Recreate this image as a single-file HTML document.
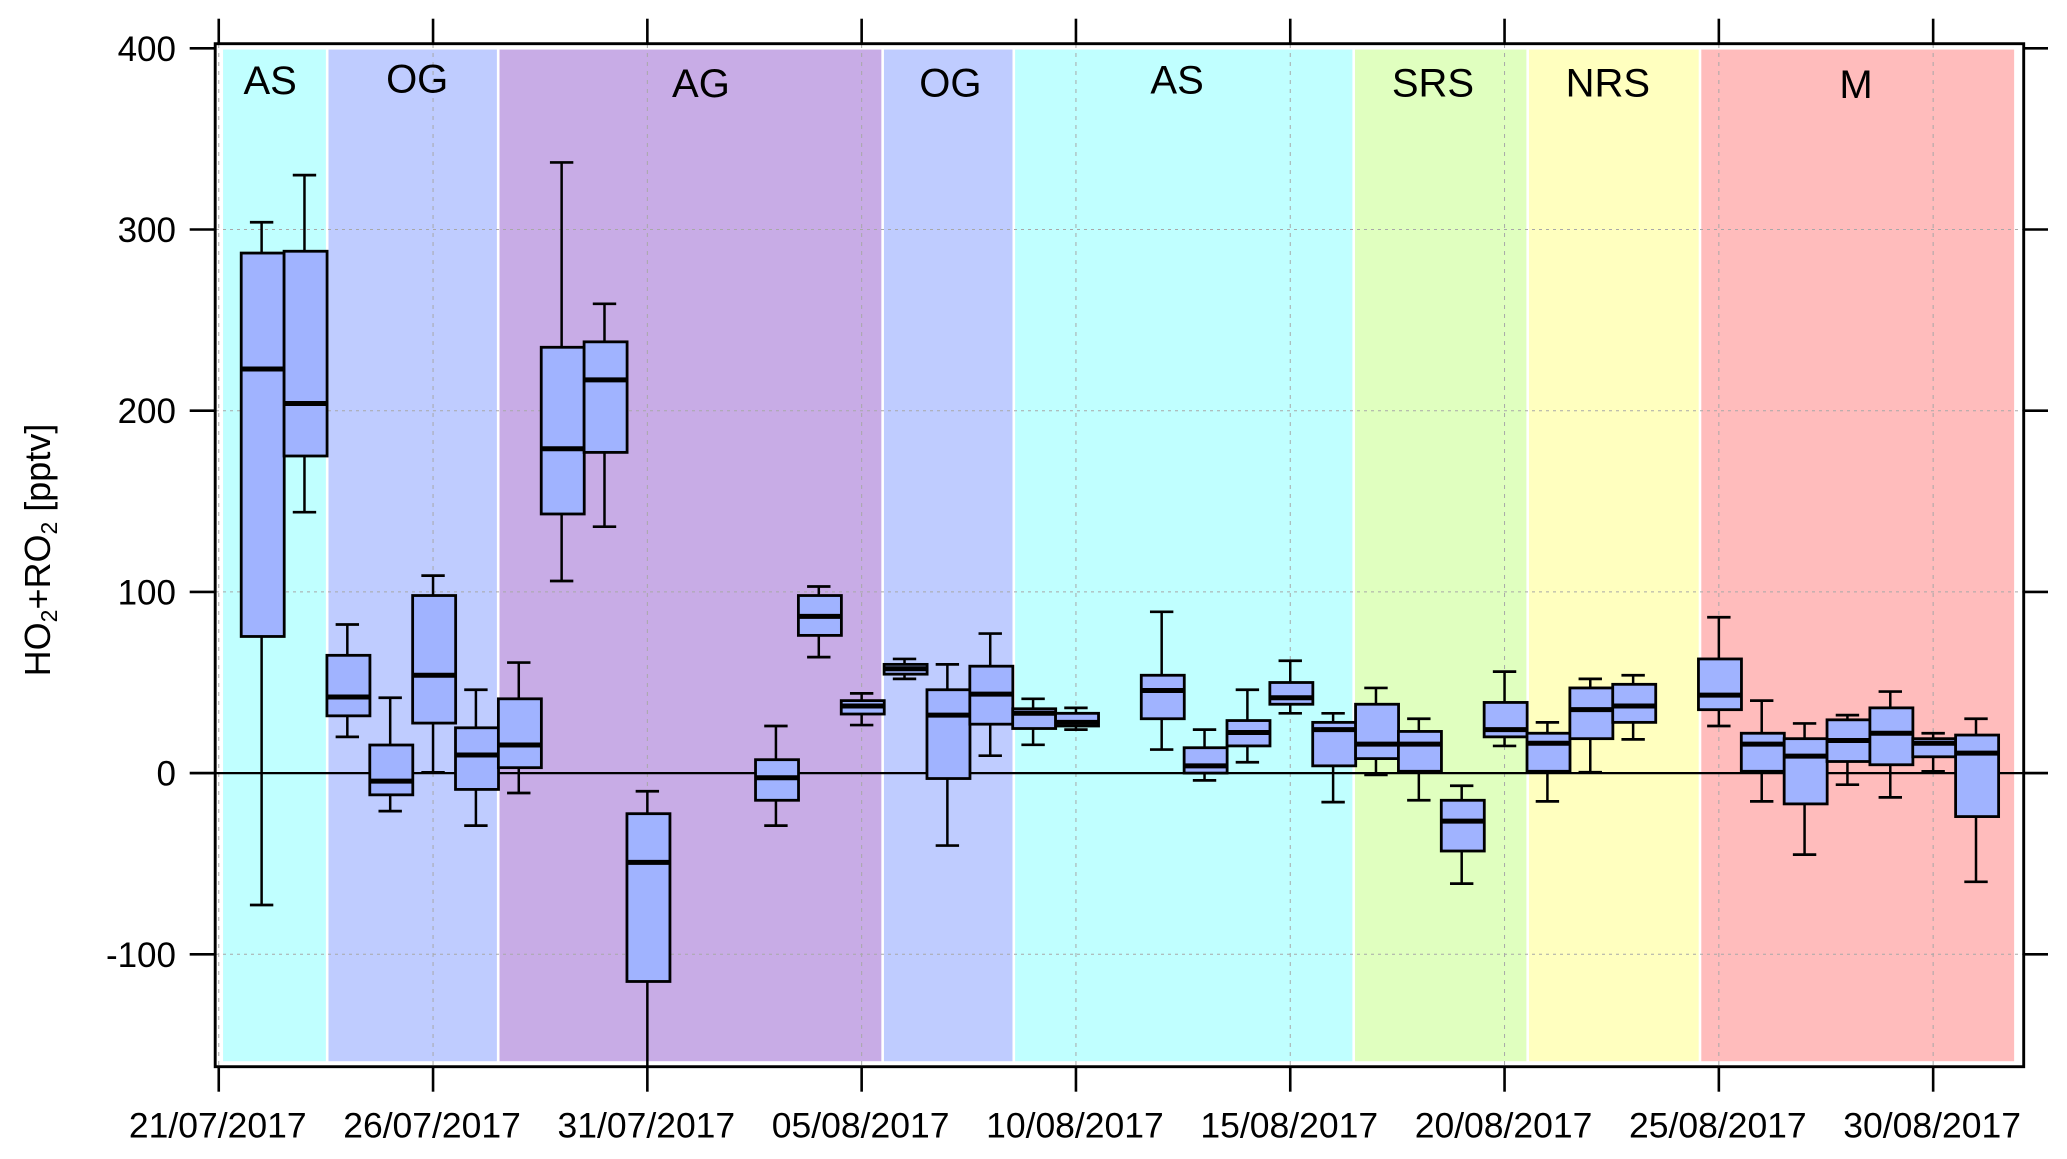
<!DOCTYPE html>
<html lang="en">
<head>
<meta charset="utf-8">
<title>HO2+RO2 box plot</title>
<style>
  html, body { margin: 0; padding: 0; background: #ffffff; }
  svg { display: block; }
  text { font-family: "Liberation Sans", Arial, sans-serif; fill: #000; }
</style>
</head>
<body>
<svg id="chart" xmlns="http://www.w3.org/2000/svg" width="2067" height="1159" viewBox="0 0 2067 1159">
  <defs>
    <clipPath id="plot-clip"><rect x="215" y="44" width="1809" height="1023"></rect></clipPath>
  </defs>
  <rect x="0" y="0" width="2067" height="1159" fill="#ffffff"></rect>
  <g id="regions"></g>
  <g id="grid"></g>
  <line id="zero-line" stroke="#000" stroke-width="2.3"></line>
  <g id="boxes" clip-path="url(#plot-clip)"></g>
  <rect x="215.2" y="43.7" width="1808.5" height="1023" fill="none" stroke="#000" stroke-width="2.9"></rect>
  <g id="ticks"></g>
  <g id="labels"></g>
  <text transform="translate(50,550) rotate(-90)" text-anchor="middle" font-size="36">HO<tspan font-size="23" dy="7">2</tspan><tspan dy="-7">+RO</tspan><tspan font-size="23" dy="7">2</tspan><tspan dy="-7"> [pptv]</tspan></text>
</svg>
<script>
// Box plot statistics, one entry per box (pptv); days are counted from 21/07/2017.
var boxDays      = [1, 2, 3, 4, 5, 6, 7, 8, 9, 10, 13, 14, 15, 16, 17, 18, 19, 20, 22, 23, 24, 25, 26, 27, 28, 29, 30, 31, 32, 33, 35, 36, 37, 38, 39, 40, 41];
var whiskerHigh  = [304, 330, 82, 41.6, 109, 46, 61, 337, 259, -10, 26, 103, 44, 63, 60, 77, 41, 36, 89, 24, 46, 62, 33, 47, 30, -7, 56, 28, 52, 54, 86, 40, 27.4, 32, 45, 22, 30];
var boxTop       = [287, 288, 65, 15.5, 98, 25, 41, 235, 238, -22.4, 7.4, 98, 40, 60, 46, 59, 35.5, 33, 54, 14, 29, 50, 28, 38, 23, -15, 39, 22, 47, 49, 63, 22, 19, 29.4, 36, 19, 21];
var boxMedian    = [223, 204, 42, -4.4, 54, 10, 15.5, 179, 217, -49.3, -2.6, 86.5, 37, 57.6, 32, 43.6, 33, 28, 45.6, 4, 22.4, 41.6, 24, 16, 16, -26.5, 24, 16.5, 35, 37, 43, 16, 9.4, 18, 22, 16.5, 11];
var boxBottom    = [75.4, 175, 31.6, -12, 27.6, -9, 3, 143, 177, -115, -15, 76, 32.6, 54.6, -3, 27, 24.6, 26, 30, 0, 15, 38, 4, 8, 1, -43, 20, 1, 19, 28, 35, 1, -17, 6.4, 4.6, 9, -24];
var whiskerLow   = [-72.8, 144, 20, -21, 0.4, -29, -11, 106, 136, -175, -29, 64, 26.5, 52, -40, 9.6, 15.6, 24, 13, -4, 6, 33, -16, -1, -15, -61, 15, -15.6, 0.5, 18.6, 26, -15.6, -45, -6.4, -13.4, 1, -60];

// Axis content.
var yTickValues  = [400, 300, 200, 100, 0, -100];
var xTickDays    = [0, 5, 10, 15, 20, 25, 30, 35, 40];
var xTickLabels  = ["21/07/2017", "26/07/2017", "31/07/2017", "05/08/2017", "10/08/2017", "15/08/2017", "20/08/2017", "25/08/2017", "30/08/2017"];

// Air-mass regions: edges in days, and label anchors in data units.
var regionEdges       = [0.07, 2.53, 6.52, 15.49, 18.55, 26.48, 30.54, 34.56, 41.92];
var regionNames       = ["AS", "OG", "AG", "OG", "AS", "SRS", "NRS", "M"];
var regionColors      = ["#c0ffff", "#bfccff", "#c8ace6", "#bfccff", "#c0ffff", "#e0ffbf", "#ffffbf", "#ffbcbc"];
var regionLabelDays   = [1.2, 4.63, 11.25, 17.07, 22.36, 28.33, 32.41, 38.2];
var regionLabelValues = [374.7, 375.5, 373, 373.5, 375, 373.5, 373.5, 372.5];

function xScale(day) { return 218.75 + 42.86 * day; }
function yScale(value) { return 773.1 - 1.812 * value; }

var NS = "http://www.w3.org/2000/svg";
function make(tag, parent, props) {
  var el = document.createElementNS(NS, tag);
  for (var k in props) { el.setAttribute(k, props[k]); }
  parent.appendChild(el);
  return el;
}

var regionLayer = document.getElementById("regions");
var gridLayer = document.getElementById("grid");
var boxLayer = document.getElementById("boxes");
var tickLayer = document.getElementById("ticks");
var labelLayer = document.getElementById("labels");

regionNames.forEach(function (name, i) {
  var x0 = xScale(regionEdges[i]) + 1.3;
  var x1 = xScale(regionEdges[i + 1]) - 1.3;
  var band = make("rect", regionLayer, { x: x0, y: yScale(399.3), width: x1 - x0, height: yScale(-159) - yScale(399.3), fill: regionColors[i] });
  
  
});

yTickValues.forEach(function (v) {
  if (v === 400) { return; }
  var gridH = make("line", gridLayer, { x1: 216, x2: 2023, y1: yScale(v), y2: yScale(v), stroke: "#a8a8a8", "stroke-width": 1, "stroke-dasharray": "3 4" });
  
  
});
xTickDays.forEach(function (d) {
  var gridV = make("line", gridLayer, { x1: xScale(d), x2: xScale(d), y1: 44, y2: 1066, stroke: "#a8a8a8", "stroke-width": 1, "stroke-dasharray": "4 5" });
  
  
});

var zero = document.getElementById("zero-line");
zero.setAttribute("x1", 190);
zero.setAttribute("x2", 2048);
zero.setAttribute("y1", yScale(0));
zero.setAttribute("y2", yScale(0));

boxDays.forEach(function (day, i) {
  var cx = xScale(day);
  var left = cx - 20.4;
  var right = cx + 22.6;
  var group = make("g", boxLayer, {});
  
  

  var stem = make("line", group, { x1: cx, x2: cx, y1: yScale(whiskerHigh[i]), y2: yScale(whiskerLow[i]), stroke: "#000", "stroke-width": 2.5 });
  
  

  var capHigh = make("line", group, { x1: cx - 11.7, x2: cx + 11.7, y1: yScale(whiskerHigh[i]), y2: yScale(whiskerHigh[i]), stroke: "#000", "stroke-width": 2.7 });
  
  

  var capLow = make("line", group, { x1: cx - 11.7, x2: cx + 11.7, y1: yScale(whiskerLow[i]), y2: yScale(whiskerLow[i]), stroke: "#000", "stroke-width": 2.7 });
  
  

  var body = make("rect", group, { x: left, y: yScale(boxTop[i]), width: right - left, height: yScale(boxBottom[i]) - yScale(boxTop[i]), fill: "#a0b3ff", stroke: "#000", "stroke-width": 2.8 });
  
  

  var med = make("line", group, { x1: left, x2: right, y1: yScale(boxMedian[i]), y2: yScale(boxMedian[i]), stroke: "#000", "stroke-width": 5 });
  
  
});

yTickValues.forEach(function (v) {
  var tickL = make("line", tickLayer, { x1: 189.7, x2: 215, y1: yScale(v), y2: yScale(v), stroke: "#000", "stroke-width": 2.6 });
  
  

  var tickR = make("line", tickLayer, { x1: 2024, x2: 2048, y1: yScale(v), y2: yScale(v), stroke: "#000", "stroke-width": 2.6 });
  
  

  var yLabel = make("text", labelLayer, { x: 176, y: yScale(v) + 12.5, "text-anchor": "end", "font-size": 35 });
  yLabel.textContent = String(v);
  
  
});

xTickDays.forEach(function (d, i) {
  var tickT = make("line", tickLayer, { x1: xScale(d), x2: xScale(d), y1: 18.7, y2: 44, stroke: "#000", "stroke-width": 2.6 });
  
  

  var tickB = make("line", tickLayer, { x1: xScale(d), x2: xScale(d), y1: 1066, y2: 1091.7, stroke: "#000", "stroke-width": 2.6 });
  
  

  var xLabel = make("text", labelLayer, { x: xScale(d) - 1, y: 1137.5, "text-anchor": "middle", "font-size": 35.5 });
  xLabel.textContent = xTickLabels[i];
  
  
});

regionNames.forEach(function (name, i) {
  var regionLabel = make("text", labelLayer, { x: xScale(regionLabelDays[i]), y: yScale(regionLabelValues[i]), "text-anchor": "middle", "font-size": 40 });
  regionLabel.textContent = name;
  
  
});
</script>
</body>
</html>
